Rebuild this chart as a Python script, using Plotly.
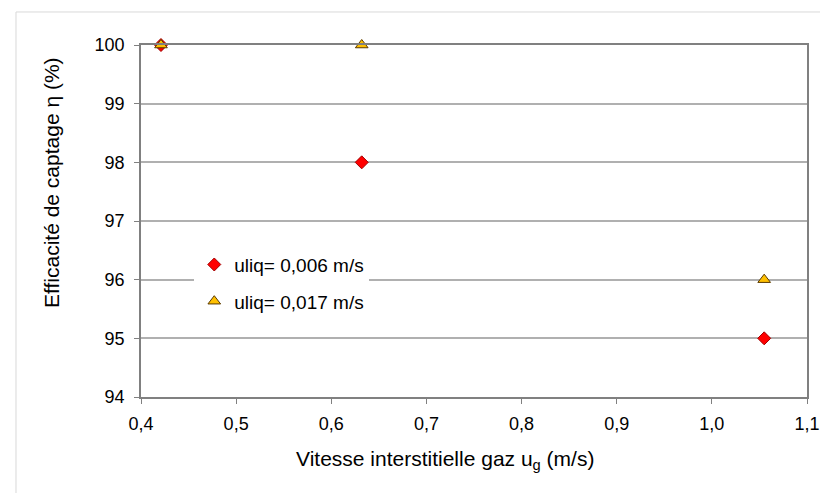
import plotly.graph_objects as go

# Data
x_ug = [0.421, 0.632, 1.055]
eta_uliq_006 = [100, 98, 95]
eta_uliq_017 = [100, 100, 96]
series_names = ["uliq= 0,006 m/s", "uliq= 0,017 m/s"]
x_ticks = [0.4, 0.5, 0.6, 0.7, 0.8, 0.9, 1.0, 1.1]
y_ticks = [94, 95, 96, 97, 98, 99, 100]
x_title = "Vitesse interstitielle gaz u<sub>g</sub> (m/s)"
y_title = "Efficacité de captage η (%)"

FONT = "Liberation Sans, Arial, sans-serif"

fig = go.Figure()
fig.add_trace(go.Scatter(
    x=x_ug, y=eta_uliq_006, mode="markers", name=series_names[0],
    legendgroup="a", cliponaxis=False,
    marker=dict(symbol="diamond", size=10, color="#ff0000",
                line=dict(color="#a00000", width=1)),
))
fig.add_trace(go.Scatter(
    x=x_ug, y=eta_uliq_017, mode="markers", name=series_names[1],
    legendgroup="b", cliponaxis=False,
    marker=dict(symbol="triangle-up", size=11, color="#ffc000",
                line=dict(color="#5a3a00", width=1)),
))

fig.update_layout(
    width=828, height=493,
    margin=dict(l=133, r=29, t=37, b=104),
    paper_bgcolor="white", plot_bgcolor="white",
    separators=", ",
    font=dict(family=FONT, size=18, color="#000000"),
    showlegend=True,
    legend=dict(
        x=0.08, y=0.43, xanchor="left", yanchor="top",
        bgcolor="white", borderwidth=0,
        font=dict(family=FONT, size=19, color="#000000"),
        tracegroupgap=9, traceorder="grouped",
    ),
    xaxis=dict(
        range=[0.4, 1.1], tickvals=x_ticks, tickformat=".1f",
        showgrid=False, zeroline=False,
        showline=True, linecolor="#808080", linewidth=1.5, mirror=True,
        ticks="outside", ticklen=5, tickcolor="#808080", tickwidth=1,
        ticklabelstandoff=5,
        tickfont=dict(family=FONT, size=18, color="#000000"),
    ),
    yaxis=dict(
        range=[94, 100], tickvals=y_ticks,
        showgrid=True, gridcolor="#b0b0b0", gridwidth=1.5, zeroline=False,
        showline=True, linecolor="#808080", linewidth=1.5, mirror=True,
        ticks="outside", ticklen=5, tickcolor="#808080", tickwidth=1,
        ticklabelstandoff=6,
        tickfont=dict(family=FONT, size=18, color="#000000"),
    ),
    annotations=[
        dict(text=x_title, xref="paper", yref="paper", x=0.456, y=-0.179,
             xanchor="center", yanchor="middle", showarrow=False,
             font=dict(family=FONT, size=21, color="#000000")),
        dict(text=y_title, xref="paper", yref="paper", x=-0.1336, y=0.608,
             xanchor="center", yanchor="middle", showarrow=False, textangle=-90,
             font=dict(family=FONT, size=21, color="#000000")),
    ],
    shapes=[dict(type="rect", xref="paper", yref="paper",
                 x0=-0.1877, x1=1.039, y0=-0.32, y1=1.0938,
                 line=dict(color="#d9d9d9", width=1), layer="below")],
)

fig.write_html("out.html")
